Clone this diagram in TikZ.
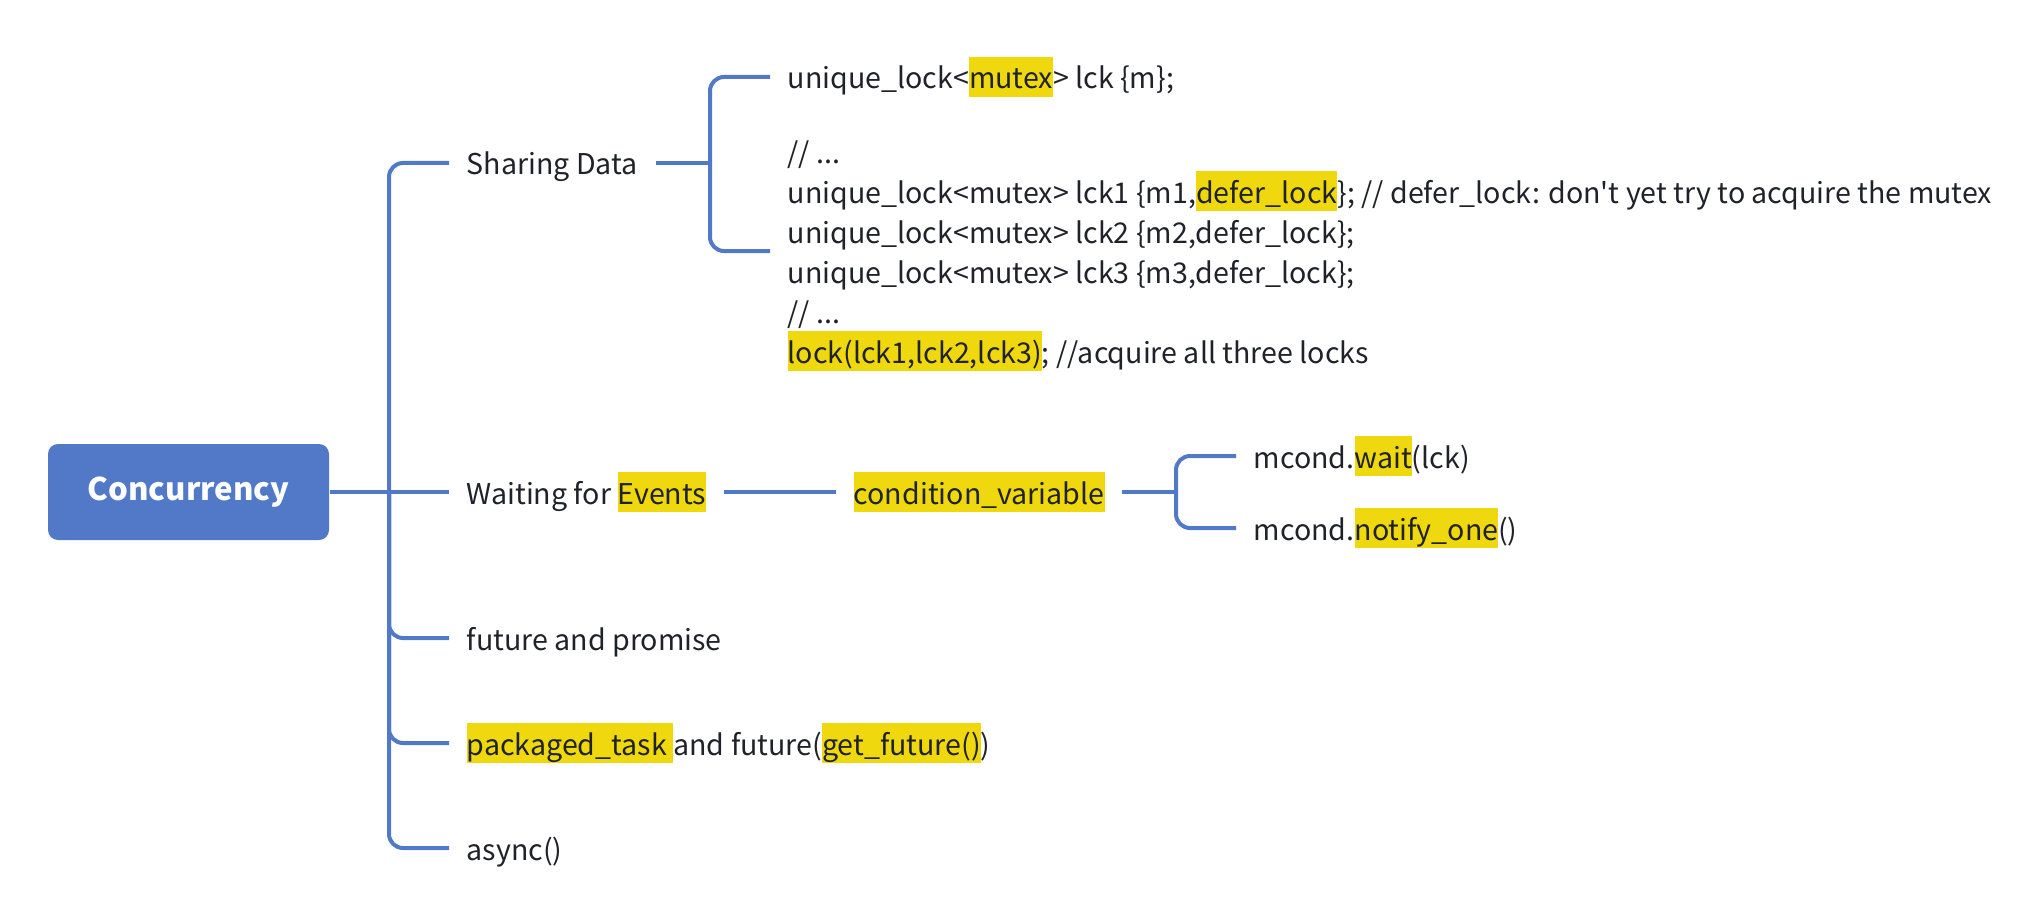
\documentclass[tikz,border=0pt]{standalone}
\usepackage{fontspec}
\setmainfont{Noto Sans CJK SC}
\definecolor{linkblue}{RGB}{81,121,200}
\definecolor{markyellow}{RGB}{240,216,14}
\definecolor{inkdark}{RGB}{31,35,41}
\newcommand{\hlt}[1]{{\setlength{\fboxsep}{0pt}\colorbox{markyellow}{\rule[-4pt]{0pt}{20pt}#1}}}
\tikzset{every picture/.style={line width=0.75pt},
  link/.style={draw=linkblue, line width=2pt, rounded corners=7pt},
  topic/.style={anchor=west, inner xsep=8.5pt, inner ysep=0pt, text height=16pt, text depth=4pt, text=inkdark, font=\fontsize{14.3}{20}\selectfont},
  codeblock/.style={anchor=west, inner xsep=8.5pt, inner ysep=0pt, align=left, text=inkdark, font=\fontsize{14.3}{20}\selectfont},
  central/.style={fill=linkblue, rounded corners=5pt, minimum width=140.5pt, minimum height=48pt, inner sep=0pt, text=white, font=\fontsize{15.6}{20}\selectfont\bfseries}
}
\begin{document}
\begin{tikzpicture}[x=0.5pt,y=0.5pt,yscale=-1,xscale=1]
\useasboundingbox (0,0) rectangle (2030,920);

% Central Topic
\node[central] (root) at (188.5,492) {Concurrency};

% Main Topics
\node[topic] (sd) at (449,163) {Sharing Data};
\node[topic] (wait) at (449,492) {Waiting for \hlt{Events}};
\node[topic] (fp) at (449,638) {future and promise};
\node[topic] (pt) at (449,743) {\hlt{packaged\_task }and future(\hlt{get\_future()})};
\node[topic] (as) at (449,848) {async()};

% Sub Topics
\node[topic] (l1) at (770,77) {unique\_lock<\hlt{mutex}> lck \{m\};};
\node[codeblock] (blk) at (770,251) {\rule[-4pt]{0pt}{20pt}// ...\\
unique\_lock<mutex> lck1 \{m1,\hlt{defer\_lock}\}; // defer\_lock: don\textquotesingle t yet try to acquire the mutex\\
unique\_lock<mutex> lck2 \{m2,defer\_lock\};\\
unique\_lock<mutex> lck3 \{m3,defer\_lock\};\\
// ...\\
\hlt{lock(lck1,lck2,lck3)}; //acquire all three locks};
\node[topic] (cv) at (836,492) {\hlt{condition\_variable}};
\node[topic] (wt) at (1236,456) {mcond.\hlt{wait}(lck)};
\node[topic] (nt) at (1236,528) {mcond.\hlt{notify\_one}()};

% Joints
\coordinate (tr) at (389,492);
\coordinate (sdj) at (710,163);
\coordinate (cvj) at (1176,492);

% Connection
\draw[link] (root.east) -- (wait.west);
\draw[link] (sd.west) -| (tr) |- (as.west);
\draw[link] (tr) |- (fp.west);
\draw[link] (tr) |- (pt.west);
% Connection
\draw[link] (sd.east) -- (sdj);
\draw[link] (sdj) |- (l1.west);
\draw[link] (sdj) |- (blk.west);
% Connection
\draw[link] (wait) -- (cv);
\draw[link] (cv.east) -- (cvj);
\draw[link] (cvj) |- (wt.west);
\draw[link] (cvj) |- (nt.west);

\end{tikzpicture}
\end{document}
